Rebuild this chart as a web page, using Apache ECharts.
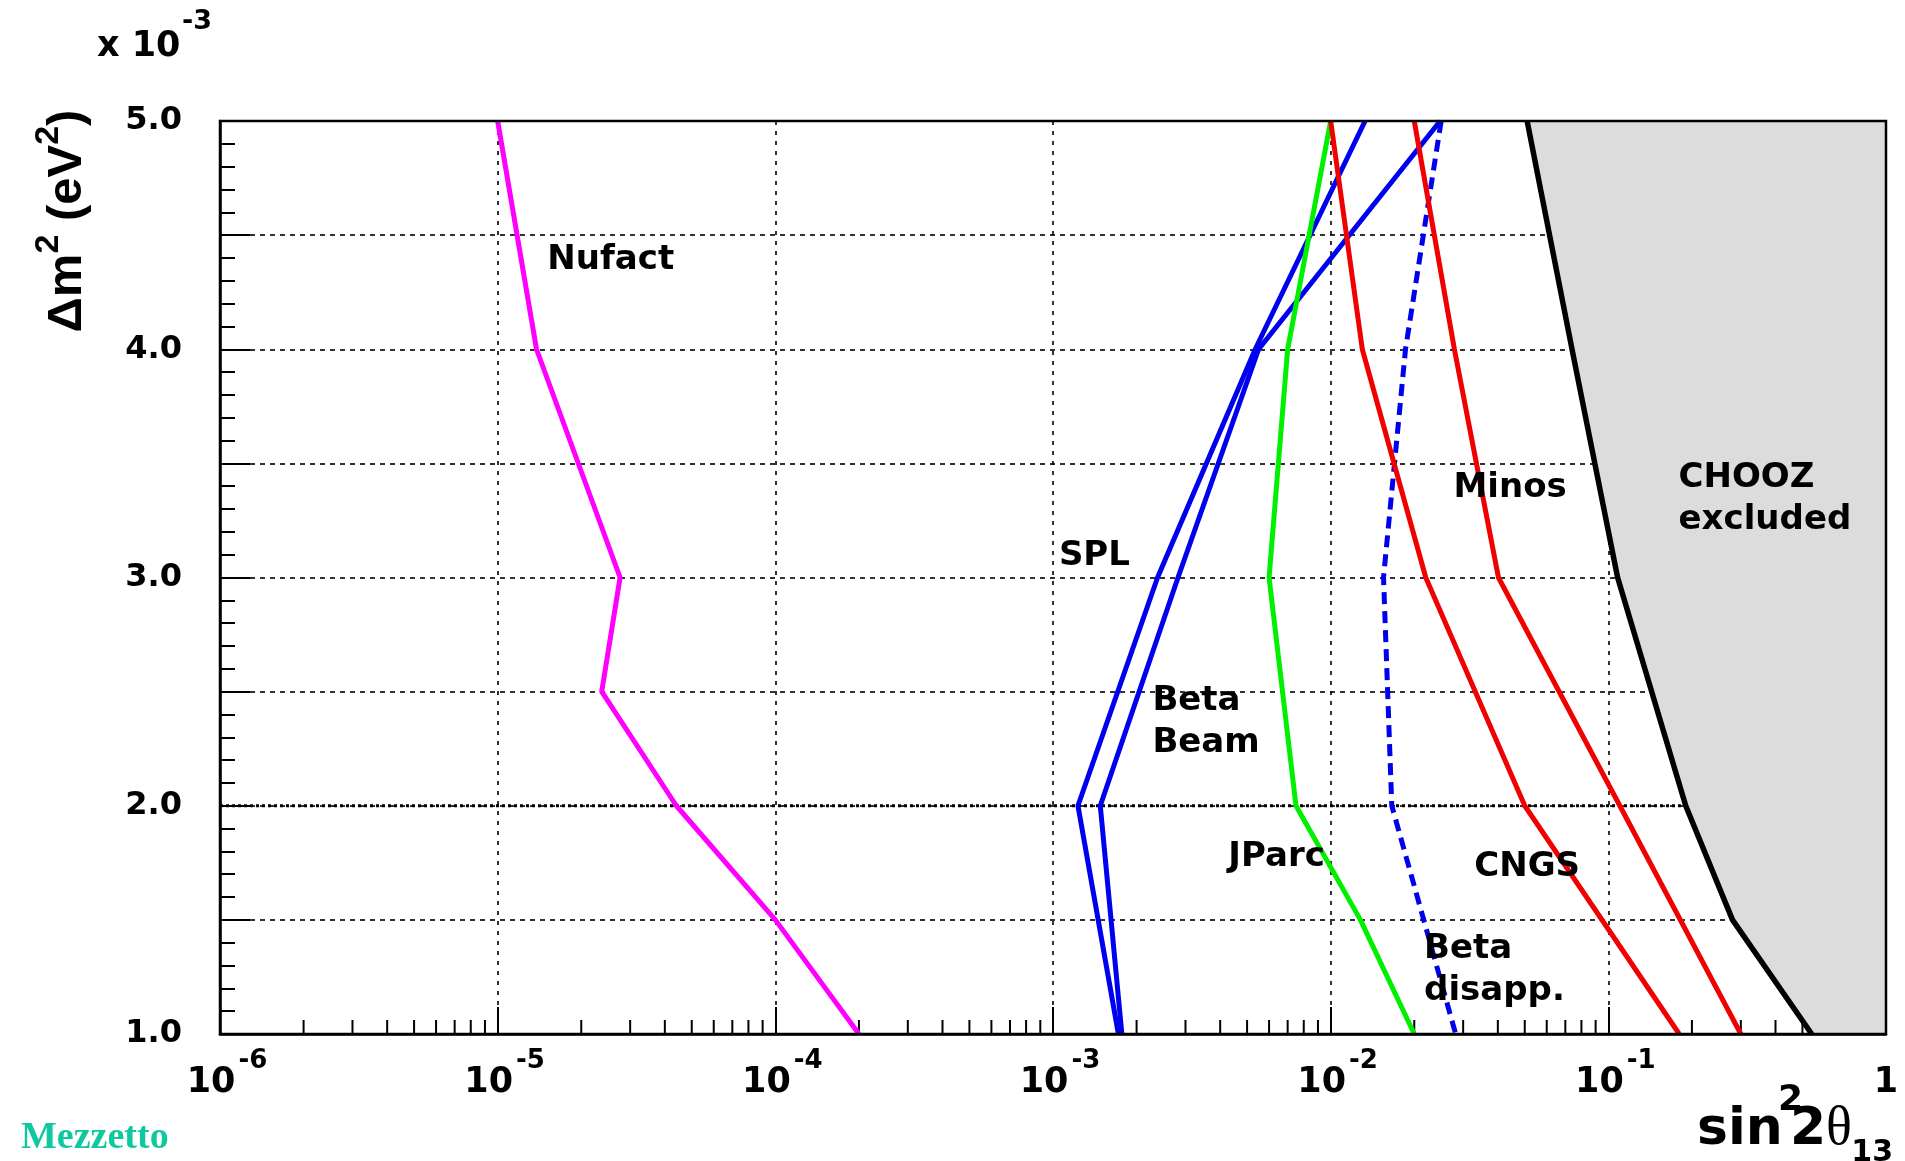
<!DOCTYPE html>
<html><head><meta charset="utf-8">
<script src="https://cdn.jsdelivr.net/npm/echarts@6/dist/echarts.min.js"></script>
<style>html,body{margin:0;padding:0;background:#fff;}#chart{width:1905px;height:1161px;}</style>
</head><body><div id="chart"></div>
<script>
// ---- data (sin^2 2theta13 vs delta m^2 in 1e-3 eV^2) ----
const massLevels = [5, 4, 3, 2, 1];
const nufactY = [5, 4, 3, 2.5, 2, 1.5, 1];
const nufactX = [1.0e-5, 1.38e-5, 2.76e-5, 2.37e-5, 4.4e-5, 1.0e-4, 2.0e-4];
const splX = [1.33e-2, 5.35e-3, 2.38e-3, 1.23e-3, 1.72e-3];
const betaBeamX = [2.48e-2, 5.5e-3, 2.82e-3, 1.48e-3, 1.77e-3];
const jparcY = [5, 4, 3, 2, 1.5, 1];
const jparcX = [1.0e-2, 7.0e-3, 6.0e-3, 7.5e-3, 1.28e-2, 2.0e-2];
const betaDisappX = [2.5e-2, 1.86e-2, 1.55e-2, 1.66e-2, 2.82e-2];
const cngsX = [1.0e-2, 1.30e-2, 2.2e-2, 5.0e-2, 0.18];
const minosX = [2.0e-2, 2.79e-2, 4.02e-2, 0.11, 0.30];
const choozY = [5, 4, 3, 2, 1.5, 1];
const choozX = [0.051, 0.074, 0.108, 0.19, 0.28, 0.54];
const xTickExponents = [-6, -5, -4, -3, -2, -1, 0];
const minorMultipliers = [2, 3, 4, 5, 6, 7, 8, 9];
const yLabelValues = [1, 2, 3, 4, 5];
const annotationTexts = ['Nufact', 'SPL', 'Beta\nBeam', 'Minos', 'CHOOZ\nexcluded', 'JParc', 'CNGS', 'Beta\ndisapp.'];
const annotationX = [1.51e-5, 1.05e-3, 2.28e-3, 2.77e-2, 0.179, 4.28e-3, 3.29e-2, 2.17e-2];
const annotationY = [4.39, 3.095, 2.367, 3.39, 3.345, 1.775, 1.731, 1.279];

const pair = (xs, ys) => xs.map((x, i) => [x, ys[i]]);
const minorTicks = [];
xTickExponents.slice(0, -1).forEach(e => minorMultipliers.forEach(m => minorTicks.push([m * Math.pow(10, e), 1])));

const F = 'DejaVu Sans';
const chart = echarts.init(document.getElementById('chart'));
function lineSeries(name, data, color, extra) {
  return Object.assign({
    name, type: 'line', data, showSymbol: false, symbol: 'none', z: 4, silent: true,
    lineStyle: { color, width: 5 }
  }, extra || {});
}
function txt(text, x, y, font, align) {
  return { type: 'text', x, y, z: 20, silent: true,
    style: { text, font, fill: '#000', align: align || 'left', verticalAlign: 'middle', textAlign: align || 'left', textVerticalAlign: 'middle' } };
}
const option = {
  animation: false,
  backgroundColor: '#fff',
  grid: { left: 220, right: 19, top: 121, bottom: 127, outerBoundsMode: 'none', containLabel: false },
  xAxis: {
    type: 'log', logBase: 10, min: 1e-6, max: 1,
    axisLine: { show: true, lineStyle: { color: '#000', width: 2.5 } },
    axisTick: { show: true, inside: true, length: 27, lineStyle: { color: '#000', width: 2 } },
    minorTick: { show: false },
    splitLine: { show: true, lineStyle: { color: '#000', width: 1.6, type: [4, 6] } },
    axisLabel: {
      margin: 14, color: '#000',
      formatter: v => {
        const e = Math.round(Math.log10(v));
        return e === 0 ? '{one|1}' : '{b|10}{s|' + e + '}';
      },
      rich: {
        b: { fontFamily: F, fontWeight: 'bold', fontSize: 35, lineHeight: 52, verticalAlign: 'bottom', padding: [0, 0, 0, 14], color: '#000' },
        s: { fontFamily: F, fontWeight: 'bold', fontSize: 26, lineHeight: 52, verticalAlign: 'top', padding: [0, 0, 0, 3], color: '#000' },
        one: { fontFamily: F, fontWeight: 'bold', fontSize: 35, lineHeight: 52, verticalAlign: 'bottom', color: '#000' }
      }
    }
  },
  yAxis: {
    type: 'value', min: 1, max: 5, interval: 0.5,
    axisLine: { show: true, lineStyle: { color: '#000', width: 2.5 } },
    axisTick: { show: true, inside: true, length: 30, lineStyle: { color: '#000', width: 2 } },
    minorTick: { show: true, splitNumber: 5, length: 15, lineStyle: { color: '#000', width: 2 } },
    splitLine: { show: true, lineStyle: { color: '#000', width: 1.6, type: [5, 5] } },
    axisLabel: {
      margin: 38, color: '#000', fontFamily: F, fontWeight: 'bold', fontSize: 32,
      formatter: v => (yLabelValues.indexOf(v) >= 0 ? v.toFixed(1) : '')
    }
  },
  series: [
    { // minor ticks on log x-axis
      type: 'custom', coordinateSystem: 'cartesian2d', z: 1, silent: true, data: minorTicks,
      renderItem: (p, api) => {
        const c = api.coord([api.value(0), 1]);
        return { type: 'line', shape: { x1: c[0], y1: c[1], x2: c[0], y2: c[1] - 14 }, style: { stroke: '#000', lineWidth: 2 } };
      }
    },
    { // heavier grid line at 2.0
      type: 'custom', coordinateSystem: 'cartesian2d', z: 1, silent: true, data: [[1e-6, 2]],
      renderItem: (p, api) => {
        const a = api.coord([1e-6, 2]), b = api.coord([1, 2]);
        return { type: 'line', shape: { x1: a[0], y1: a[1], x2: b[0], y2: b[1] }, style: { stroke: '#000', lineWidth: 3, lineDash: [3, 3] } };
      }
    },
    { // CHOOZ excluded region
      type: 'custom', coordinateSystem: 'cartesian2d', z: 2, silent: true, data: [[1, 1]],
      renderItem: (p, api) => {
        const pts = choozX.map((x, i) => api.coord([x, choozY[i]]));
        pts.push(api.coord([1, 1]));
        pts.push(api.coord([1, 5]));
        return { type: 'polygon', shape: { points: pts }, style: { fill: '#dcdcdc' } };
      }
    },
    lineSeries('CHOOZ', pair(choozX, choozY), '#000', { lineStyle: { color: '#000', width: 5.5 } }),
    lineSeries('Nufact', pair(nufactX, nufactY), '#ff00ff'),
    lineSeries('SPL', pair(splX, massLevels), '#0000f0'),
    lineSeries('Beta Beam', pair(betaBeamX, massLevels), '#0000f0'),
    lineSeries('JParc', pair(jparcX, jparcY), '#00f000'),
    lineSeries('Beta disapp.', pair(betaDisappX, massLevels), '#0000f0', { lineStyle: { color: '#0000f0', width: 5, type: [12, 7] } }),
    lineSeries('CNGS', pair(cngsX, massLevels), '#f00000'),
    lineSeries('Minos', pair(minosX, massLevels), '#f00000'),
    { // annotations
      type: 'custom', coordinateSystem: 'cartesian2d', z: 6, silent: true,
      data: annotationX.map((x, i) => [x, annotationY[i], i]),
      renderItem: (p, api) => {
        const c = api.coord([api.value(0), api.value(1)]);
        return {
          type: 'text', x: c[0], y: c[1],
          style: {
            text: annotationTexts[api.value(2)], fill: '#000',
            font: 'bold 34px "DejaVu Sans"', lineHeight: 42,
            align: 'left', verticalAlign: 'middle', textAlign: 'left', textVerticalAlign: 'middle'
          }
        };
      }
    },
    { // frame
      type: 'custom', coordinateSystem: 'cartesian2d', z: 10, silent: true, data: [[1, 1]],
      renderItem: (p, api) => {
        const a = api.coord([1e-6, 5]), b = api.coord([1, 1]);
        return { type: 'rect', shape: { x: a[0], y: a[1], width: b[0] - a[0], height: b[1] - a[1] }, style: { fill: 'none', stroke: '#000', lineWidth: 2.5 } };
      }
    }
  ],
  graphic: [
    txt('x 10', 97, 47, 'bold 35px "DejaVu Sans"'),
    txt('-3', 182, 22, 'bold 27px "DejaVu Sans"'),
    { type: 'text', x: 62, y: 221, rotation: Math.PI / 2, z: 20,
      style: { text: '{a|\u0394m}{s|2}{a| (eV}{s|2}{a|)}', align: 'center', verticalAlign: 'middle', textAlign: 'center', textVerticalAlign: 'middle',
        rich: {
          a: { fontFamily: 'Liberation Sans', fontWeight: 'bold', fontSize: 49, lineHeight: 60, verticalAlign: 'bottom', fill: '#000', color: '#000' },
          s: { fontFamily: 'Liberation Sans', fontWeight: 'bold', fontSize: 34, lineHeight: 60, verticalAlign: 'top', fill: '#000', color: '#000' }
        } } },
    txt('sin', 1697, 1130, 'bold 52px "DejaVu Sans"'),
    txt('2', 1778, 1101, 'bold 36px "DejaVu Sans"'),
    txt('2', 1790, 1130, 'bold 52px "DejaVu Sans"'),
    txt('\u03b8', 1826, 1130, '54px "Liberation Serif"'),
    txt('13', 1893, 1153, 'bold 30px "DejaVu Sans"', 'right'),
    { type: 'text', x: 21, y: 1157, z: 20,
      style: { text: 'Mezzetto', font: 'bold 38px "Liberation Serif"', fill: '#10c8a0', align: 'left', verticalAlign: 'bottom', textAlign: 'left', textVerticalAlign: 'bottom' } }
  ]
};
chart.setOption(option);
</script></body></html>
